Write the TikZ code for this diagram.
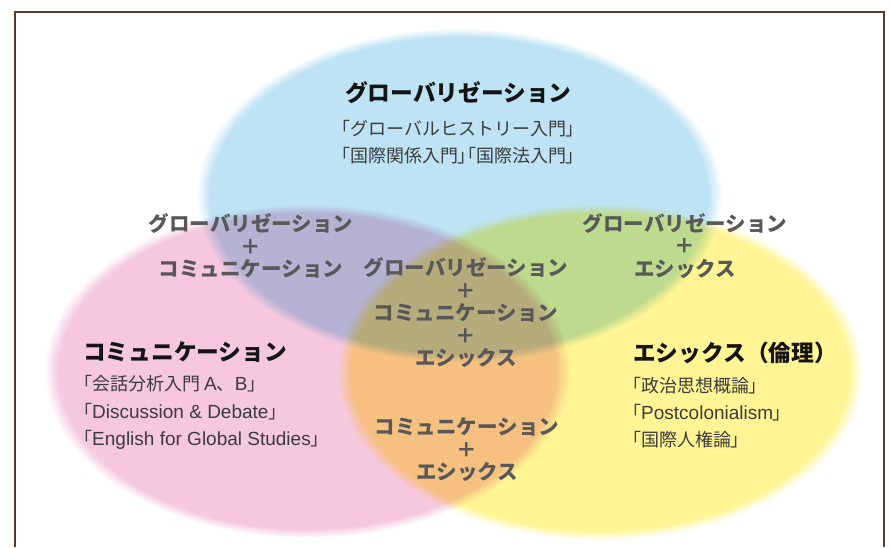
\documentclass[tikz,border=0pt]{standalone}
\usepackage{fontspec}
\setmainfont{Noto Sans CJK JP}
\newfontfamily\jplist[RawFeature=+palt]{Noto Sans CJK JP}
\newfontfamily\latinf{Liberation Sans}
\newcommand{\lbk}{{\jplist 「}}
\newcommand{\rbk}{{\jplist 」}}
\newcommand{\lat}[1]{{\fontsize{19}{20}\selectfont\latinf #1}}
\definecolor{cblue}{RGB}{189,227,245}
\definecolor{cpink}{RGB}{245,200,221}
\definecolor{cyellow}{RGB}{255,245,148}
\definecolor{framecol}{RGB}{92,58,40}
\definecolor{titlecol}{RGB}{20,20,20}
\definecolor{listcol}{RGB}{60,60,60}
\definecolor{labelcol}{RGB}{88,88,88}
\pgfdeclareradialshading{softblue}{\pgfpoint{0bp}{0bp}}{color(0bp)=(cblue); color(23.6bp)=(cblue); color(25bp)=(white); color(50bp)=(white)}
\pgfdeclareradialshading{softpink}{\pgfpoint{0bp}{0bp}}{color(0bp)=(cpink); color(23.6bp)=(cpink); color(25bp)=(white); color(50bp)=(white)}
\pgfdeclareradialshading{softyellow}{\pgfpoint{0bp}{0bp}}{color(0bp)=(cyellow); color(23.6bp)=(cyellow); color(25bp)=(white); color(50bp)=(white)}
\tikzset{
  settitle/.style={anchor=west, inner sep=0pt, text=titlecol, font=\fontsize{22.7}{26}\selectfont\bfseries},
  setlist/.style={anchor=west, inner sep=0pt, text=listcol, font=\fontsize{18}{20}\selectfont},
  overlap/.style={align=center, inner sep=0pt, text=labelcol, font=\fontsize{20.5}{22.5}\selectfont\bfseries},
  blob/.style={blend mode=multiply}
}
\begin{document}
\begin{tikzpicture}[x=1pt,y=-1pt]
\useasboundingbox (0,0) rectangle (890,547);
\fill[white] (0,0) rectangle (890,547);
% circles
\shade[blob, shading=softblue] (459,195) ellipse (263 and 167);
\shade[blob, shading=softpink] (307,371) ellipse (263 and 167);
\shade[blob, shading=softyellow] (600,372) ellipse (263 and 168);
% frame
\draw[framecol, line width=1.5pt] (15,547) -- (15,12) -- (884,12) -- (884,547);
% globalization
\node[settitle] (gtitle) at (345,93) {グローバリゼーション};
\node[setlist] (g1) at (341,129) {\lbk グローバルヒストリー入門\rbk};
\node[setlist] (g2) at (341,156) {\lbk 国際関係入門\rbk\lbk 国際法入門\rbk};
% communication
\node[settitle] (ctitle) at (83,352) {コミュニケーション};
\node[setlist] (c1) at (83,384) {\lbk 会話分析入門 \lat{A}、\lat{B}\rbk};
\node[setlist] (c2) at (83,412) {\lbk\lat{Discussion \& Debate}\rbk};
\node[setlist] (c3) at (83,440) {\lbk\lat{English for Global Studies}\rbk};
% ethics
\node[settitle] (etitle) at (633,353) {エシックス（倫理）};
\node[setlist] (e1) at (632,386) {\lbk 政治思想概論\rbk};
\node[setlist] (e2) at (632,413) {\lbk\lat{Postcolonialism}\rbk};
\node[setlist] (e3) at (632,440) {\lbk 国際人権論\rbk};
% overlaps
\node[overlap] (gc) at (251,246) {グローバリゼーション\\＋\\コミュニケーション};
\node[overlap] (ge) at (685,246) {グローバリゼーション\\＋\\エシックス};
\node[overlap] (gce) at (466,313) {グローバリゼーション\\＋\\コミュニケーション\\＋\\エシックス};
\node[overlap] (ce) at (467,450) {コミュニケーション\\＋\\エシックス};
\end{tikzpicture}
\end{document}
